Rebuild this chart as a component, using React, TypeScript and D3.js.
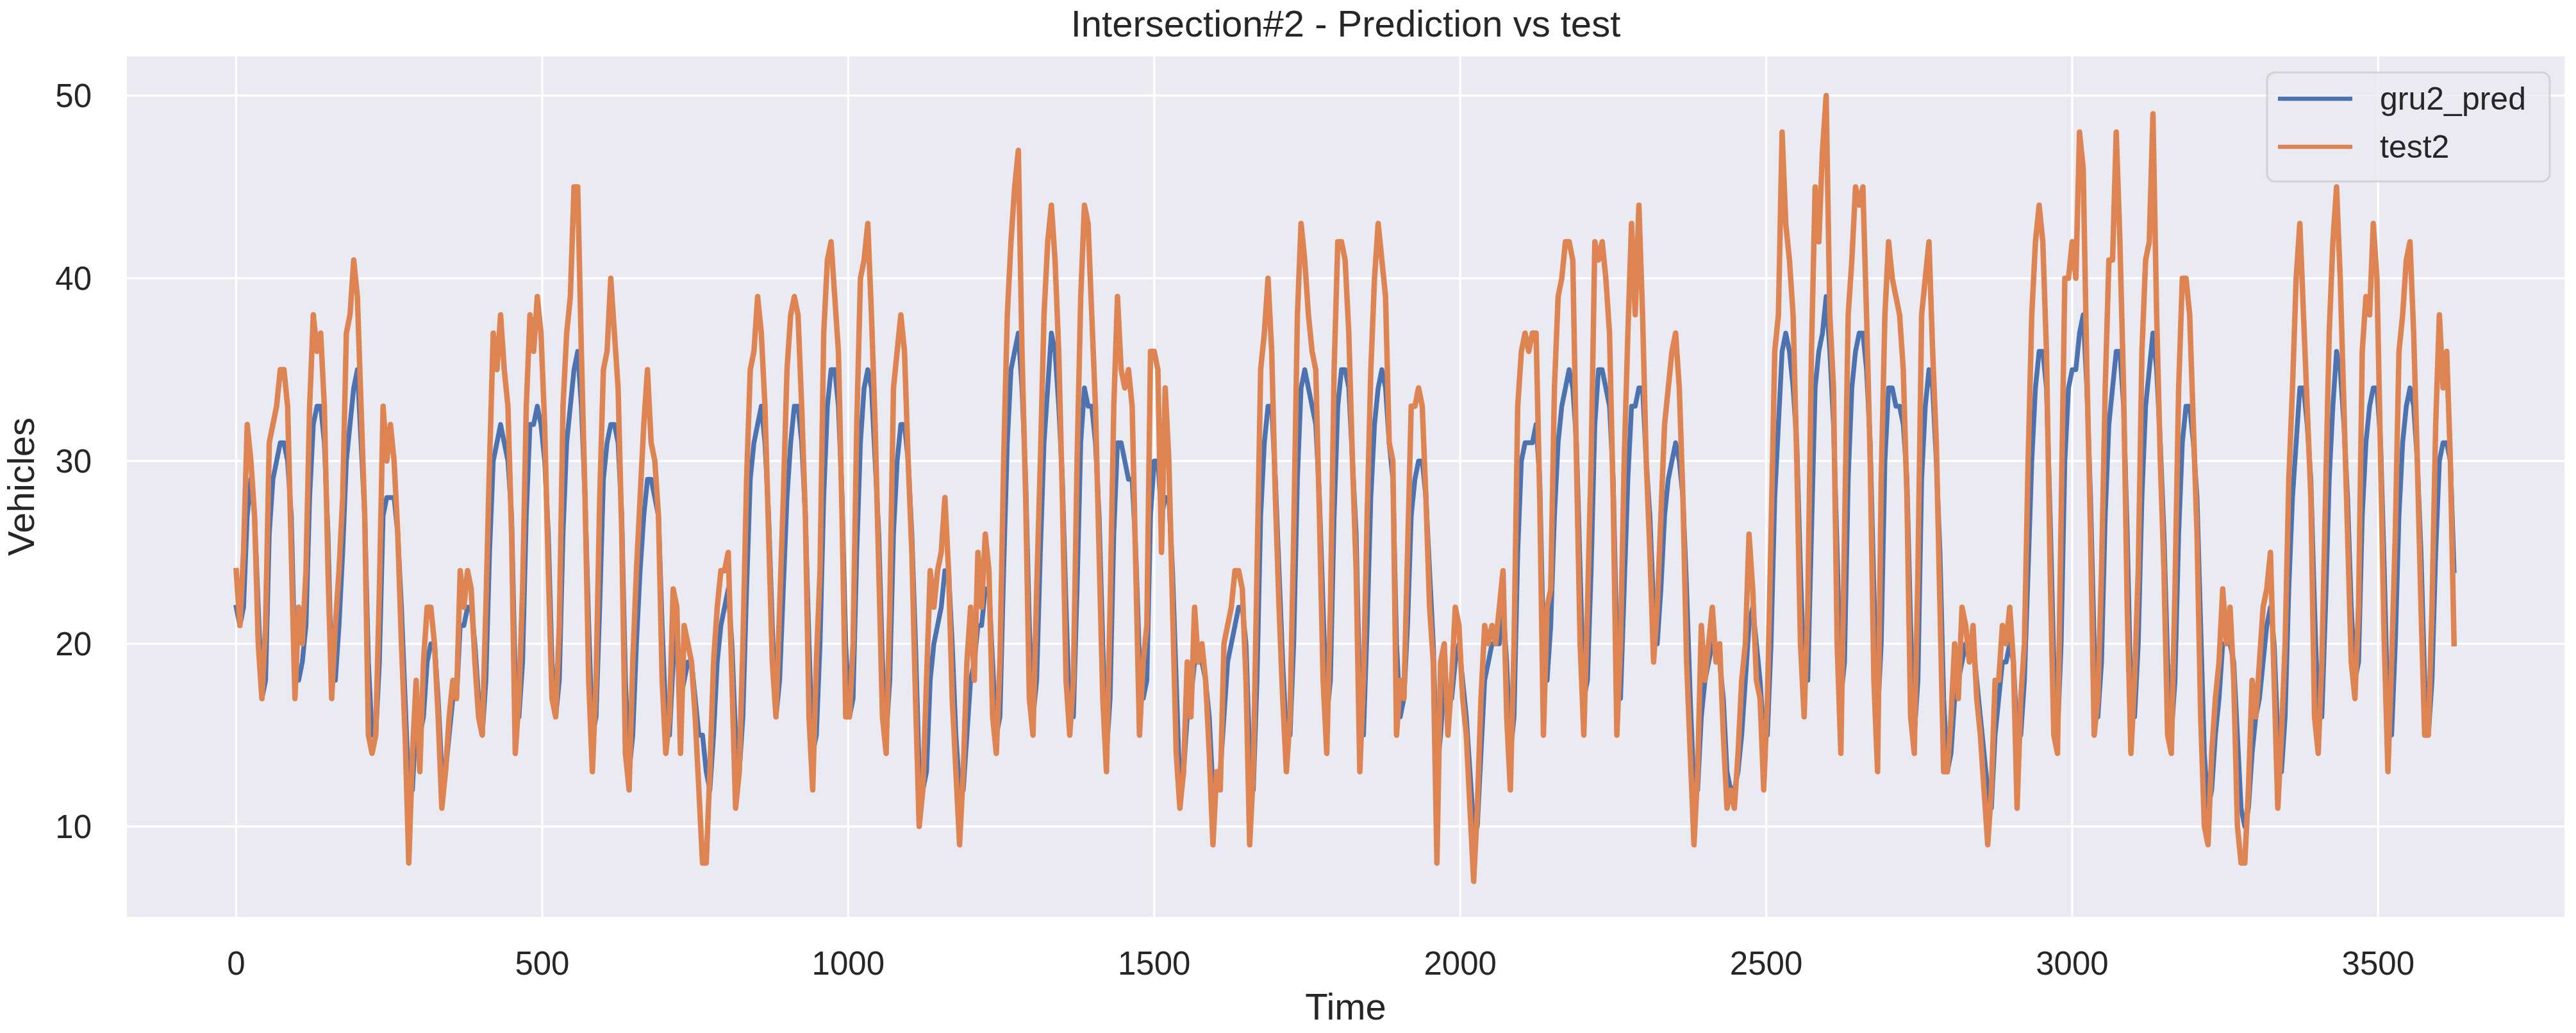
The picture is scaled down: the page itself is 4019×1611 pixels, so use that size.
import { useEffect, useRef } from "react";
import * as d3 from "d3";

// test2 / gru2_pred values, one reading every 6 time steps (t = 0, 6, 12, ...)
const timeStep = 6;

const test2 = [
  24, 21, 25, 32, 30, 27, 20, 17, 21, 31,
  32, 33, 35, 35, 33, 25, 17, 22, 20, 24,
  33, 38, 36, 37, 33, 24, 17, 21, 24, 28,
  37, 38, 41, 39, 33, 27, 15, 14, 15, 23,
  33, 30, 32, 30, 26, 20, 15, 8, 14, 18,
  13, 19, 22, 22, 20, 16, 11, 13, 16, 18,
  17, 24, 22, 24, 23, 19, 16, 15, 22, 30,
  37, 35, 38, 35, 33, 26, 14, 17, 23, 33,
  38, 36, 39, 37, 32, 24, 17, 16, 21, 33,
  37, 39, 45, 45, 36, 28, 18, 13, 18, 28,
  35, 36, 40, 37, 34, 26, 14, 12, 19, 24,
  28, 32, 35, 31, 30, 27, 18, 14, 16, 23,
  22, 14, 21, 20, 19, 16, 12, 8, 8, 13,
  19, 22, 24, 24, 25, 18, 11, 13, 20, 29,
  35, 36, 39, 37, 33, 26, 19, 16, 22, 28,
  35, 38, 39, 38, 33, 27, 16, 12, 19, 24,
  37, 41, 42, 39, 36, 27, 16, 16, 20, 32,
  40, 41, 43, 38, 32, 24, 16, 14, 22, 34,
  36, 38, 36, 30, 25, 17, 10, 12, 18, 24,
  22, 24, 25, 28, 24, 17, 13, 9, 13, 19,
  22, 18, 25, 22, 26, 24, 16, 14, 19, 30,
  38, 42, 45, 47, 36, 28, 17, 15, 23, 30,
  38, 42, 44, 41, 36, 28, 18, 15, 18, 30,
  39, 44, 43, 38, 33, 25, 17, 13, 22, 33,
  39, 35, 34, 35, 33, 24, 15, 19, 21, 36,
  36, 35, 25, 34, 30, 22, 14, 11, 13, 19,
  16, 22, 19, 20, 18, 14, 9, 13, 12, 20,
  21, 22, 24, 24, 23, 18, 9, 13, 24, 35,
  37, 40, 36, 28, 22, 17, 13, 16, 26, 38,
  43, 41, 38, 36, 35, 27, 18, 14, 22, 35,
  42, 42, 41, 37, 30, 24, 13, 18, 27, 35,
  40, 43, 41, 39, 31, 30, 15, 18, 17, 25,
  33, 33, 34, 33, 28, 22, 19, 8, 19, 20,
  15, 18, 22, 21, 17, 15, 11, 7, 11, 17,
  21, 20, 21, 20, 22, 24, 16, 12, 20, 33,
  36, 37, 36, 37, 37, 28, 15, 22, 23, 34,
  39, 40, 42, 42, 41, 30, 20, 15, 22, 30,
  42, 41, 42, 40, 37, 28, 15, 20, 30, 37,
  43, 38, 44, 38, 30, 25, 19, 22, 27, 32,
  34, 36, 37, 34, 28, 19, 14, 9, 13, 21,
  18, 20, 22, 19, 20, 15, 11, 12, 11, 14,
  18, 20, 26, 23, 18, 17, 12, 17, 26, 36,
  38, 48, 43, 41, 38, 30, 20, 16, 22, 36,
  45, 42, 47, 50, 38, 34, 20, 14, 26, 38,
  41, 45, 44, 45, 38, 30, 18, 13, 29, 38,
  42, 40, 39, 38, 35, 28, 16, 14, 24, 38,
  40, 42, 36, 31, 22, 13, 13, 16, 20, 17,
  22, 21, 19, 21, 17, 15, 12, 9, 12, 18,
  18, 21, 20, 22, 19, 11, 17, 20, 30, 38,
  42, 44, 42, 36, 24, 15, 14, 27, 40, 40,
  42, 40, 48, 46, 35, 26, 15, 17, 24, 34,
  41, 41, 48, 42, 34, 22, 14, 18, 24, 36,
  41, 42, 49, 38, 30, 24, 15, 14, 23, 34,
  40, 40, 38, 32, 26, 16, 10, 9, 14, 17,
  19, 23, 20, 22, 18, 10, 8, 8, 12, 18,
  16, 19, 22, 23, 25, 18, 11, 15, 20, 29,
  34, 40, 43, 38, 33, 28, 16, 14, 19, 28,
  37, 42, 45, 40, 33, 26, 19, 17, 22, 36,
  39, 38, 43, 40, 30, 20, 13, 19, 26, 36,
  38, 41, 42, 37, 30, 22, 15, 15, 22, 32,
  38, 34, 36, 30, 20,
];

const gru2Pred = [
  22, 21, 22, 27, 29, 27, 22, 17, 18, 26,
  29, 30, 31, 31, 30, 27, 19, 18, 19, 21,
  28, 32, 33, 33, 31, 26, 18, 18, 21, 25,
  30, 32, 34, 35, 31, 27, 19, 15, 15, 19,
  27, 28, 28, 28, 26, 22, 17, 12, 12, 16,
  15, 16, 19, 20, 20, 17, 13, 13, 15, 17,
  17, 21, 21, 22, 22, 20, 17, 15, 18, 25,
  30, 31, 32, 31, 30, 27, 18, 16, 19, 27,
  32, 32, 33, 32, 30, 26, 19, 16, 18, 26,
  31, 33, 35, 36, 33, 28, 21, 15, 16, 22,
  29, 31, 32, 32, 31, 27, 18, 13, 15, 20,
  24, 27, 29, 29, 28, 27, 21, 16, 15, 19,
  21, 17, 18, 19, 19, 17, 15, 15, 13, 12,
  15, 19, 21, 22, 23, 20, 15, 13, 16, 23,
  29, 31, 32, 33, 31, 27, 21, 16, 18, 23,
  28, 31, 33, 33, 31, 27, 20, 14, 15, 20,
  28, 33, 35, 35, 33, 28, 20, 16, 17, 25,
  31, 34, 35, 34, 30, 26, 19, 15, 18, 26,
  30, 32, 32, 30, 26, 20, 13, 12, 13, 18,
  20, 21, 22, 24, 24, 20, 15, 12, 12, 15,
  18, 19, 21, 21, 23, 23, 19, 15, 16, 24,
  31, 35, 36, 37, 34, 29, 21, 16, 18, 25,
  31, 34, 37, 36, 33, 29, 22, 16, 16, 23,
  31, 34, 33, 33, 31, 27, 20, 14, 17, 26,
  31, 31, 30, 29, 29, 25, 19, 17, 18, 27,
  30, 30, 27, 28, 28, 24, 18, 12, 13, 16,
  17, 19, 19, 19, 18, 16, 12, 12, 13, 16,
  19, 20, 21, 22, 22, 20, 14, 12, 18, 27,
  31, 33, 33, 29, 24, 19, 15, 15, 20, 29,
  34, 35, 34, 33, 32, 28, 22, 16, 18, 27,
  33, 35, 35, 34, 30, 26, 17, 15, 21, 28,
  32, 34, 35, 34, 31, 29, 20, 16, 17, 21,
  27, 29, 30, 30, 28, 24, 20, 13, 15, 18,
  17, 17, 19, 20, 18, 16, 13, 10, 10, 14,
  18, 19, 20, 20, 20, 22, 19, 14, 16, 25,
  30, 31, 31, 31, 32, 29, 20, 18, 21, 27,
  31, 33, 34, 35, 34, 31, 24, 17, 18, 24,
  32, 35, 35, 34, 33, 29, 20, 17, 23, 29,
  33, 33, 34, 34, 30, 27, 22, 20, 23, 27,
  29, 30, 31, 30, 28, 23, 17, 12, 12, 16,
  18, 19, 20, 20, 19, 17, 13, 12, 12, 13,
  15, 18, 21, 22, 20, 18, 15, 15, 20, 28,
  32, 36, 37, 36, 34, 31, 24, 18, 18, 26,
  34, 36, 37, 39, 36, 32, 25, 17, 19, 29,
  34, 36, 37, 37, 35, 31, 23, 16, 20, 30,
  34, 34, 33, 33, 32, 29, 21, 15, 18, 29,
  33, 35, 34, 30, 25, 17, 13, 14, 17, 18,
  19, 20, 20, 20, 18, 16, 14, 12, 11, 15,
  17, 19, 19, 20, 19, 15, 15, 18, 24, 30,
  34, 36, 36, 34, 27, 19, 15, 20, 30, 34,
  35, 35, 37, 38, 34, 28, 20, 16, 19, 27,
  32, 34, 36, 36, 33, 26, 17, 16, 20, 28,
  33, 35, 37, 35, 31, 26, 19, 15, 18, 26,
  31, 33, 33, 31, 28, 21, 14, 11, 12, 15,
  17, 20, 20, 20, 19, 15, 11, 10, 11, 14,
  16, 17, 19, 21, 22, 20, 15, 13, 16, 23,
  28, 31, 34, 34, 32, 29, 22, 16, 16, 22,
  29, 33, 36, 35, 32, 28, 22, 18, 19, 27,
  31, 33, 34, 34, 31, 24, 16, 15, 20, 27,
  31, 33, 34, 33, 30, 25, 18, 15, 18, 25,
  30, 31, 31, 30, 24,
];

const xTicks = [0, 500, 1000, 1500, 2000, 2500, 3000, 3500];
const yTicks = [10, 20, 30, 40, 50];

const seriesNames = ["gru2_pred", "test2"];
const seriesColors = ["#4C72B0", "#DD8452"];
// the original is hourly and much denser, so the plotted strokes are a bit heavier
const seriesWidths = [7.5, 8.5];

const W = 4019;
const H = 1611;
const font = "'Liberation Sans', Arial, sans-serif";
const textColor = "#262626";

const App = () => {
  const svgRef = useRef<SVGSVGElement>(null);

  useEffect(() => {
    const svg = d3.select(svgRef.current);
    svg.selectAll("*").remove();

    // plot area (pixels)
    const plot = { left: 198, right: 4001, top: 88, bottom: 1430 };

    svg.append("rect").attr("width", W).attr("height", H).attr("fill", "#ffffff");

    const x = d3.scaleLinear().domain([-178.6, 3804.4]).range([plot.left, plot.right]);
    const y = d3.scaleLinear().domain([5.05, 52.14]).range([plot.bottom, plot.top]);

    svg.append("rect")
      .attr("x", plot.left)
      .attr("y", plot.top)
      .attr("width", plot.right - plot.left)
      .attr("height", plot.bottom - plot.top)
      .attr("fill", "#EAEAF2");

    // grid
    svg.append("g")
      .selectAll("line")
      .data(xTicks)
      .enter()
      .append("line")
      .attr("x1", (d) => x(d))
      .attr("x2", (d) => x(d))
      .attr("y1", plot.top)
      .attr("y2", plot.bottom)
      .attr("stroke", "#ffffff")
      .attr("stroke-width", 3.3);

    svg.append("g")
      .selectAll("line")
      .data(yTicks)
      .enter()
      .append("line")
      .attr("x1", plot.left)
      .attr("x2", plot.right)
      .attr("y1", (d) => y(d))
      .attr("y2", (d) => y(d))
      .attr("stroke", "#ffffff")
      .attr("stroke-width", 3.3);

    // tick labels
    svg.append("g")
      .selectAll("text")
      .data(xTicks)
      .enter()
      .append("text")
      .attr("x", (d) => x(d))
      .attr("y", 1520)
      .attr("text-anchor", "middle")
      .style("font-family", font)
      .style("font-size", "51px")
      .attr("fill", textColor)
      .text((d) => String(d));

    svg.append("g")
      .selectAll("text")
      .data(yTicks)
      .enter()
      .append("text")
      .attr("x", 143)
      .attr("y", (d) => y(d) + 18)
      .attr("text-anchor", "end")
      .style("font-family", font)
      .style("font-size", "51px")
      .attr("fill", textColor)
      .text((d) => String(d));

    // series
    const line = d3.line<number>()
      .x((_, i) => x(i * timeStep))
      .y((d) => y(d));

    const clipId = "plot-clip";
    svg.append("clipPath")
      .attr("id", clipId)
      .append("rect")
      .attr("x", plot.left)
      .attr("y", plot.top)
      .attr("width", plot.right - plot.left)
      .attr("height", plot.bottom - plot.top);

    [gru2Pred, test2].forEach((values, k) => {
      svg.append("path")
        .datum(values)
        .attr("clip-path", `url(#${clipId})`)
        .attr("d", line)
        .attr("fill", "none")
        .attr("stroke", seriesColors[k])
        .attr("stroke-width", seriesWidths[k])
        .attr("stroke-linejoin", "round")
        .attr("stroke-linecap", "square");
    });

    // legend
    const legend = svg.append("g").attr("transform", `translate(3537,113)`);
    legend.append("rect")
      .attr("width", 441)
      .attr("height", 170)
      .attr("rx", 12)
      .attr("fill", "#EAEAF2")
      .attr("fill-opacity", 0.8)
      .attr("stroke", "#CCCCCC")
      .attr("stroke-opacity", 0.8)
      .attr("stroke-width", 3);

    seriesNames.forEach((name, k) => {
      const rowY = 41 + k * 75;
      legend.append("line")
        .attr("x1", 17)
        .attr("x2", 133)
        .attr("y1", rowY)
        .attr("y2", rowY)
        .attr("stroke", seriesColors[k])
        .attr("stroke-width", 6.3);
      legend.append("text")
        .attr("x", 176)
        .attr("y", rowY + 17)
        .style("font-family", font)
        .style("font-size", "50px")
        .attr("fill", textColor)
        .text(name);
    });

    // title and axis labels
    svg.append("text")
      .attr("x", (plot.left + plot.right) / 2)
      .attr("y", 57)
      .attr("text-anchor", "middle")
      .style("font-family", font)
      .style("font-size", "58px")
      .attr("fill", textColor)
      .text("Intersection#2 - Prediction vs test");

    svg.append("text")
      .attr("x", (plot.left + plot.right) / 2)
      .attr("y", 1590)
      .attr("text-anchor", "middle")
      .style("font-family", font)
      .style("font-size", "58px")
      .attr("fill", textColor)
      .text("Time");

    svg.append("text")
      .attr("transform", `translate(53,${(plot.top + plot.bottom) / 2}) rotate(-90)`)
      .attr("text-anchor", "middle")
      .style("font-family", font)
      .style("font-size", "58px")
      .attr("fill", textColor)
      .text("Vehicles");
  }, []);

  return (
    <svg
      ref={svgRef}
      width={W}
      height={H}
      style={{ position: "absolute", left: 0, top: 0, display: "block" }}
    ></svg>
  );
};

export default App;
